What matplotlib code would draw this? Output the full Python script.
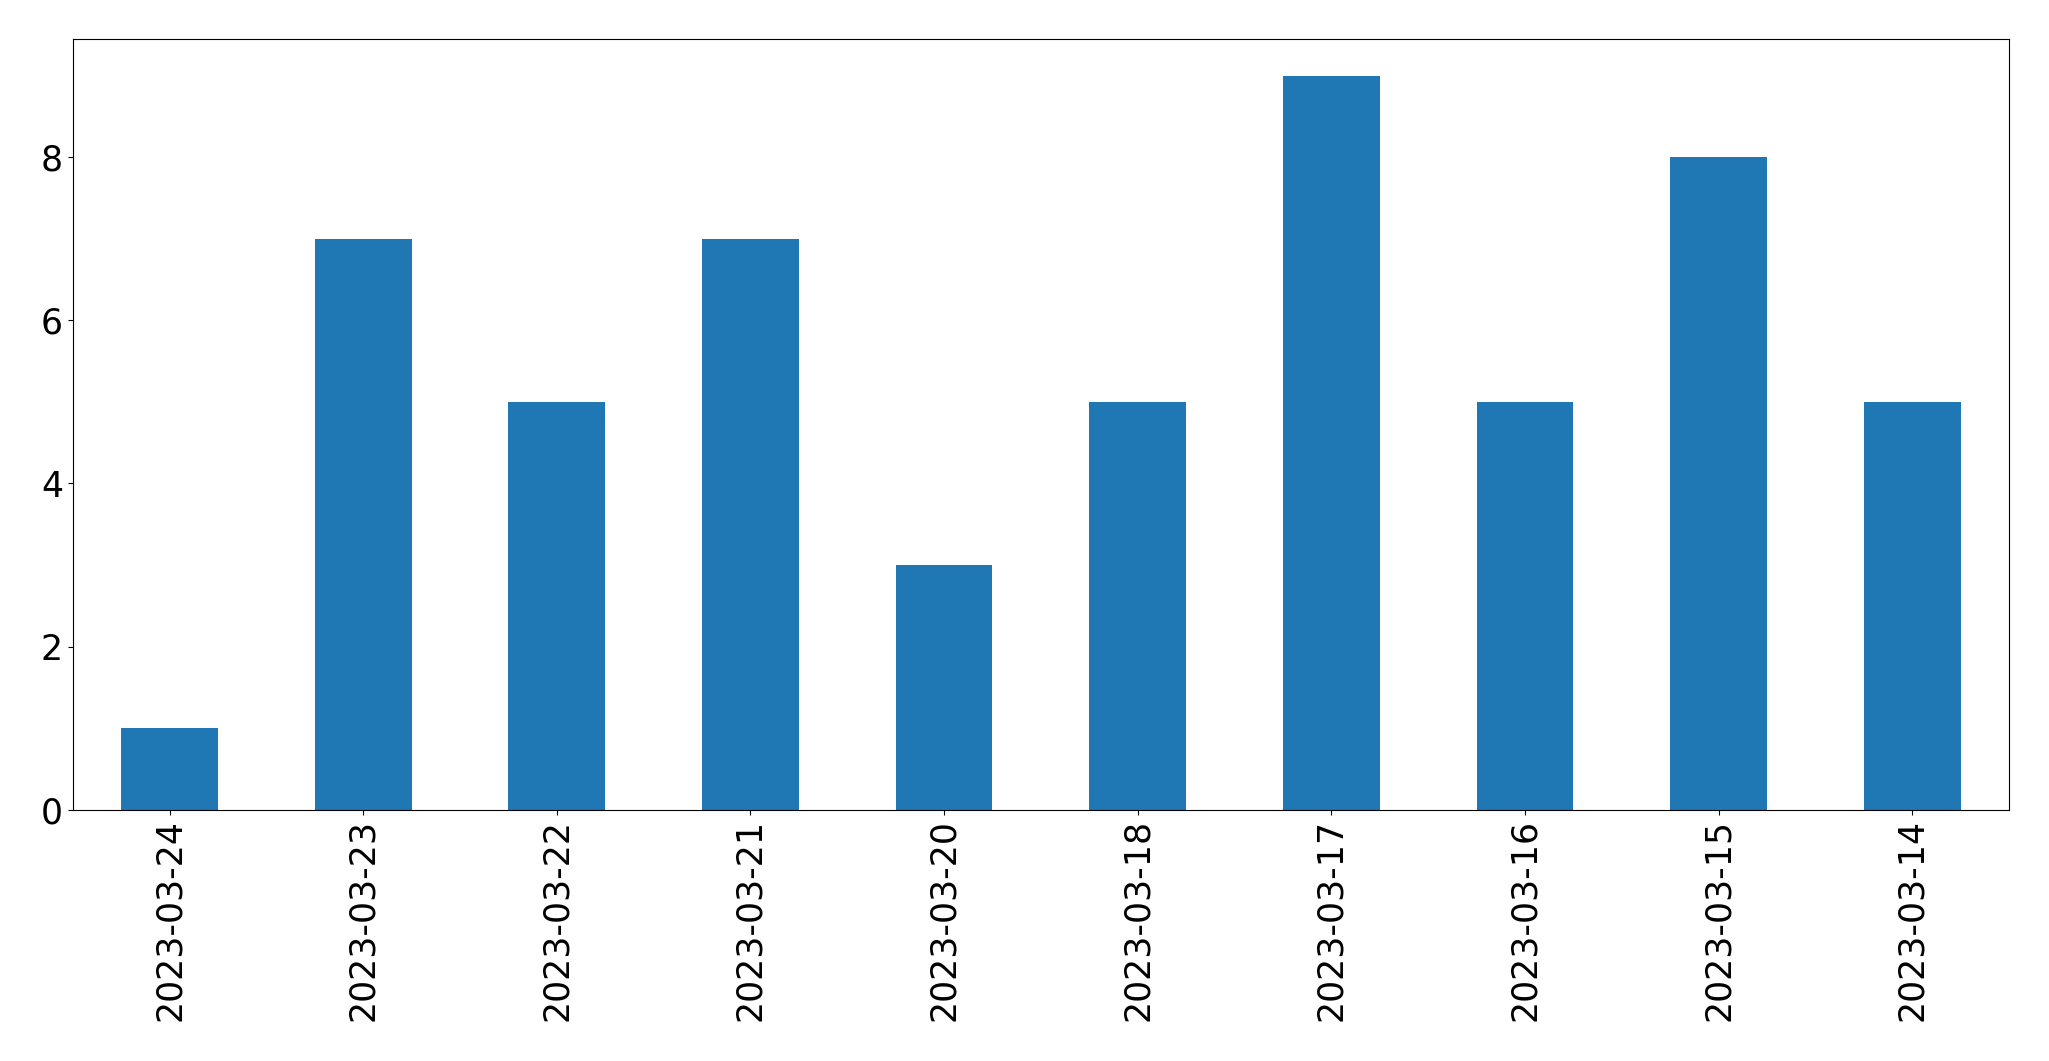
import matplotlib
matplotlib.use("Agg")
import matplotlib.pyplot as plt
import pandas as pd

# ----- Data -----

dates = ["2023-03-24", "2023-03-23", "2023-03-22", "2023-03-21", "2023-03-20",
         "2023-03-18", "2023-03-17", "2023-03-16", "2023-03-15", "2023-03-14"]
counts = [1, 7, 5, 7, 3, 5, 9, 5, 8, 5]

# ----- Plot -----

series = pd.Series(counts, index=dates)

fig, ax = plt.subplots(figsize=(20.49, 10.61), dpi=100)
series.plot(kind="bar", ax=ax, color="#1f77b4", width=0.5)
ax.tick_params(axis="both", labelsize=25)
fig.subplots_adjust(left=0.0355, right=0.9805, top=0.963, bottom=0.237)
fig.savefig("out.png", dpi=100)
